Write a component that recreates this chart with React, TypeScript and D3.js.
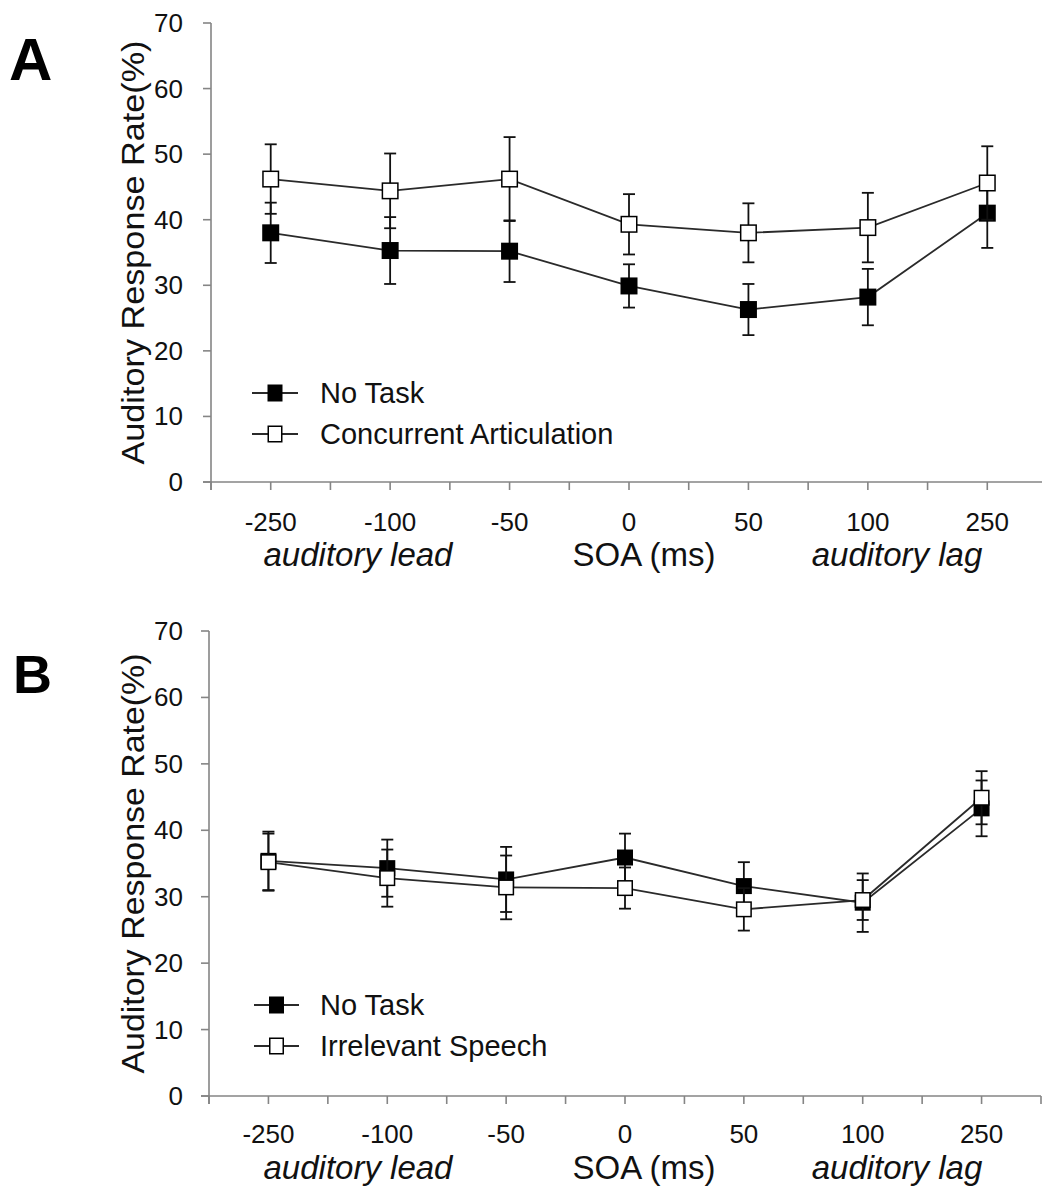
import React from "react";
import * as d3 from "d3";

// SOA conditions (ms) on the x axis
const SOA_LABELS = ["-250", "-100", "-50", "0", "50", "100", "250"];
const Y_TICKS = [0, 10, 20, 30, 40, 50, 60, 70];

// Panel A: No Task vs Concurrent Articulation (mean ± error)
const A_NO_TASK = [38.0, 35.3, 35.2, 29.9, 26.3, 28.2, 41.0];
const A_NO_TASK_ERR = [4.6, 5.1, 4.7, 3.3, 3.9, 4.3, 5.3];
const A_ARTIC = [46.2, 44.4, 46.2, 39.3, 38.0, 38.8, 45.6];
const A_ARTIC_ERR = [5.3, 5.7, 6.4, 4.6, 4.5, 5.3, 5.6];

// Panel B: No Task vs Irrelevant Speech (mean ± error)
const B_NO_TASK = [35.4, 34.3, 32.6, 35.9, 31.6, 29.1, 43.3];
const B_NO_TASK_ERR = [4.4, 4.3, 4.9, 3.6, 3.6, 4.4, 4.2];
const B_SPEECH = [35.2, 32.8, 31.4, 31.3, 28.1, 29.5, 44.9];
const B_SPEECH_ERR = [4.3, 4.3, 4.8, 3.1, 3.2, 3.0, 4.0];

const FONT = "'Liberation Sans', Arial, Helvetica, sans-serif";
const AXIS_COLOR = "#858585";
const LINE_COLOR = "#2a2a2a";

type Series = { name: string; values: number[]; errors: number[]; filled: boolean };

type PanelCfg = {
  letter: string;
  letterX: number;
  letterY: number;
  letterSize: number;
  left: number;
  right: number;
  top: number;
  bottom: number;
  marker: number;
  legendRows: number[];
  legendLine: [number, number];
  legendTextX: number;
  tickLabelY: number;
  titleY: number;
  yTitleX: number;
  yTitleLen: number;
};

const PANEL_A: PanelCfg = {
  letter: "A",
  letterX: 9,
  letterY: 80,
  letterSize: 60,
  left: 211,
  right: 1047,
  top: 23,
  bottom: 482,
  marker: 17,
  legendRows: [393, 434],
  legendLine: [252, 298],
  legendTextX: 320,
  tickLabelY: 531,
  titleY: 566,
  yTitleX: 144,
  yTitleLen: 424,
};

const PANEL_B: PanelCfg = {
  letter: "B",
  letterX: 13,
  letterY: 693,
  letterSize: 54,
  left: 209,
  right: 1041,
  top: 631,
  bottom: 1096,
  marker: 16,
  legendRows: [1005, 1046],
  legendLine: [254, 299],
  legendTextX: 320,
  tickLabelY: 1143,
  titleY: 1179,
  yTitleX: 144,
  yTitleLen: 420,
};

function Panel({ cfg, series }: { cfg: PanelCfg; series: Series[] }) {
  const x = d3.scalePoint<string>().domain(SOA_LABELS).range([cfg.left, cfg.right]).padding(0.5);
  const y = d3.scaleLinear().domain([0, 70]).range([cfg.bottom, cfg.top]);
  const step = x.step();
  const tickXs = d3.range(0, SOA_LABELS.length * 2 + 1).map((i) => cfg.left + (i * step) / 2);
  const line = d3
    .line<number>()
    .x((_, i) => x(SOA_LABELS[i]) as number)
    .y((d) => y(d));
  const cap = 6;
  const half = cfg.marker / 2;
  const yMid = (cfg.top + cfg.bottom) / 2;

  return (
    <g>
      <text x={cfg.letterX} y={cfg.letterY} fontFamily={FONT} fontWeight="bold" fontSize={cfg.letterSize} fill="#000">
        {cfg.letter}
      </text>

      {/* y axis */}
      <line x1={cfg.left} x2={cfg.left} y1={y(70)} y2={y(0) + 8} stroke={AXIS_COLOR} strokeWidth={1.6} />
      {Y_TICKS.map((t) => (
        <g key={t}>
          <line x1={cfg.left - 8} x2={cfg.left} y1={y(t)} y2={y(t)} stroke={AXIS_COLOR} strokeWidth={1.6} />
          <text x={183} y={y(t) + 9} textAnchor="end" fontFamily={FONT} fontSize={26} fill="#111">
            {t}
          </text>
        </g>
      ))}
      <text
        transform={`translate(${cfg.yTitleX},${yMid}) rotate(-90)`}
        textAnchor="middle"
        fontFamily={FONT}
        fontSize={32}
        fill="#111"
        textLength={cfg.yTitleLen}
        lengthAdjust="spacingAndGlyphs"
      >
        Auditory Response Rate(%)
      </text>

      {/* x axis */}
      <line x1={cfg.left - 8} x2={cfg.right} y1={y(0)} y2={y(0)} stroke={AXIS_COLOR} strokeWidth={1.6} />
      {tickXs.map((tx, i) => (
        <line key={i} x1={tx} x2={tx} y1={y(0)} y2={y(0) + 8} stroke={AXIS_COLOR} strokeWidth={1.6} />
      ))}
      {SOA_LABELS.map((c) => (
        <text key={c} x={x(c)} y={cfg.tickLabelY} textAnchor="middle" fontFamily={FONT} fontSize={26} fill="#111">
          {c}
        </text>
      ))}
      <text x={358} y={cfg.titleY} textAnchor="middle" fontFamily={FONT} fontStyle="italic" fontSize={33} fill="#111">
        auditory lead
      </text>
      <text x={644} y={cfg.titleY} textAnchor="middle" fontFamily={FONT} fontSize={33} fill="#111">
        SOA (ms)
      </text>
      <text x={897} y={cfg.titleY} textAnchor="middle" fontFamily={FONT} fontStyle="italic" fontSize={33} fill="#111">
        auditory lag
      </text>

      {/* data series: line, error bars, then markers */}
      {series.map((s) => (
        <g key={s.name}>
          <path d={line(s.values) ?? ""} fill="none" stroke={LINE_COLOR} strokeWidth={1.8} />
          {s.values.map((v, i) => {
            const cx = x(SOA_LABELS[i]) as number;
            const hi = y(v + s.errors[i]);
            const lo = y(v - s.errors[i]);
            return (
              <g key={i} stroke="#111" strokeWidth={1.8}>
                <line x1={cx} x2={cx} y1={hi} y2={lo} />
                <line x1={cx - cap} x2={cx + cap} y1={hi} y2={hi} />
                <line x1={cx - cap} x2={cx + cap} y1={lo} y2={lo} />
              </g>
            );
          })}
          {s.values.map((v, i) => {
            const cx = x(SOA_LABELS[i]) as number;
            return s.filled ? (
              <rect key={i} x={cx - half} y={y(v) - half} width={cfg.marker} height={cfg.marker} fill="#000" />
            ) : (
              <rect
                key={i}
                x={cx - half + 0.75}
                y={y(v) - half + 0.75}
                width={cfg.marker - 1.5}
                height={cfg.marker - 1.5}
                fill="#fff"
                stroke="#000"
                strokeWidth={1.5}
              />
            );
          })}
        </g>
      ))}

      {/* legend */}
      {series.map((s, k) => {
        const ry = cfg.legendRows[k];
        const mx = (cfg.legendLine[0] + cfg.legendLine[1]) / 2;
        const ms = 15;
        return (
          <g key={s.name}>
            <line x1={cfg.legendLine[0]} x2={cfg.legendLine[1]} y1={ry} y2={ry} stroke={LINE_COLOR} strokeWidth={1.8} />
            {s.filled ? (
              <rect x={mx - ms / 2} y={ry - ms / 2 - 1} width={ms} height={ms + 2} fill="#000" />
            ) : (
              <rect
                x={mx - ms / 2 + 0.75}
                y={ry - ms / 2 - 0.25}
                width={ms - 1.5}
                height={ms + 0.5}
                fill="#fff"
                stroke="#000"
                strokeWidth={1.5}
              />
            )}
            <text x={cfg.legendTextX} y={ry + 10} fontFamily={FONT} fontSize={29} fill="#111">
              {s.name}
            </text>
          </g>
        );
      })}
    </g>
  );
}

export default function App() {
  const seriesA: Series[] = [
    { name: "No Task", values: A_NO_TASK, errors: A_NO_TASK_ERR, filled: true },
    { name: "Concurrent Articulation", values: A_ARTIC, errors: A_ARTIC_ERR, filled: false },
  ];
  const seriesB: Series[] = [
    { name: "No Task", values: B_NO_TASK, errors: B_NO_TASK_ERR, filled: true },
    { name: "Irrelevant Speech", values: B_SPEECH, errors: B_SPEECH_ERR, filled: false },
  ];
  return (
    <svg
      width={1042}
      height={1193}
      viewBox="0 0 1042 1193"
      style={{ position: "absolute", left: 0, top: 0, background: "#fff" }}
    >
      <rect width={1042} height={1193} fill="#fff" />
      <Panel cfg={PANEL_A} series={seriesA} />
      <Panel cfg={PANEL_B} series={seriesB} />
    </svg>
  );
}
